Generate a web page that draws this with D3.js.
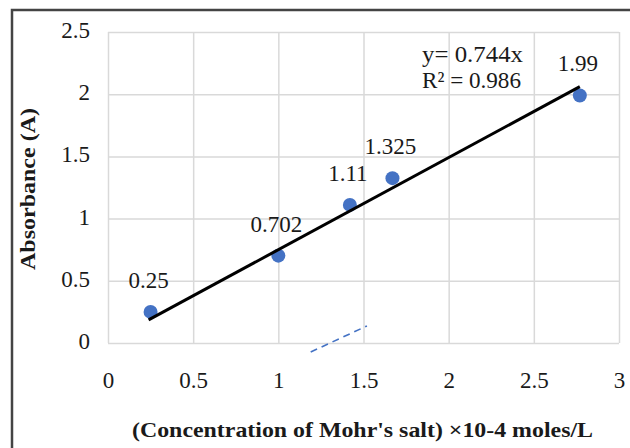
<!DOCTYPE html>
<html>
<head>
<meta charset="utf-8">
<script src="https://cdn.jsdelivr.net/npm/d3@7"></script>
<style>
  html, body { margin: 0; padding: 0; background: #fff; }
  svg { display: block; }
  text { font-family: "Liberation Serif", "Times New Roman", serif; fill: #1a1a1a; }
</style>
</head>
<body>
<script>
// ---- data ----
const concentration = [0.25, 1.0, 1.42, 1.67, 2.77];
const absorbance = [0.25, 0.702, 1.11, 1.325, 1.99];
const pointLabels = ["0.25", "0.702", "1.11", "1.325", "1.99"];
const slope = 0.744;
const equationLines = ["y= 0.744x", "R\u00B2 = 0.986"];
const dashX = [1.19, 1.52];
const dashY = [-0.072, 0.137];
const xTicks = [0, 0.5, 1, 1.5, 2, 2.5, 3];
const yTicks = [0, 0.5, 1, 1.5, 2, 2.5];
const xTitle = "(Concentration of Mohr's salt) \u00D710-4 moles/L";
const yTitle = "Absorbance (A)";

const W = 630, H = 448;
const svg = d3.select("body").append("svg").attr("width", W).attr("height", H);

// outer frame (extends past the right/bottom edges)
svg.append("path")
  .attr("d", "M12,470 L12,10 L640,10")
  .attr("fill", "none").attr("stroke", "#444").attr("stroke-width", 2.5);

const x = d3.scaleLinear().domain([0, 3]).range([108, 619]);
const y = d3.scaleLinear().domain([0, 2.5]).range([343, 32]);

// grid
const gx = svg.append("g").attr("transform", `translate(0,${y(0)})`)
  .call(d3.axisBottom(x).tickValues(xTicks).tickSize(-(y(0) - y(2.5))).tickFormat(""));
const gy = svg.append("g").attr("transform", `translate(${x(0)},0)`)
  .call(d3.axisLeft(y).tickValues(yTicks).tickSize(-(x(3) - x(0))).tickFormat(""));
[gx, gy].forEach(g => {
  g.select(".domain").remove();
  g.selectAll(".tick line").attr("stroke", "#d9d9d9").attr("stroke-width", 1.5);
});

// tick labels
const lx = svg.append("g").attr("transform", `translate(0,${y(0)})`)
  .call(d3.axisBottom(x).tickValues(xTicks).tickSize(0).tickFormat(d3.format("")));
lx.select(".domain").remove();
lx.selectAll("text").attr("y", 45).attr("dy", "0")
  .style("font-family", "'Liberation Serif', serif").style("font-size", "23px").attr("fill", "#1a1a1a");

const ly = svg.append("g").attr("transform", `translate(${x(0)},0)`)
  .call(d3.axisLeft(y).tickValues(yTicks).tickSize(0).tickFormat(d3.format("")));
ly.select(".domain").remove();
ly.selectAll("text").attr("x", -18).attr("dy", "0.24em")
  .style("font-family", "'Liberation Serif', serif").style("font-size", "23px").attr("fill", "#1a1a1a");

// dashed segment
svg.append("line")
  .attr("x1", x(dashX[0])).attr("y1", y(dashY[0]))
  .attr("x2", x(dashX[1])).attr("y2", y(dashY[1]))
  .attr("stroke", "#4472C4").attr("stroke-width", 1.6).attr("stroke-dasharray", "7,5");

// points
svg.append("g").selectAll("circle")
  .data(concentration)
  .join("circle")
  .attr("cx", (d) => x(d))
  .attr("cy", (d, i) => y(absorbance[i]))
  .attr("r", 7)
  .attr("fill", "#4472C4");

// trendline
const xMin = d3.min(concentration), xMax = d3.max(concentration);
svg.append("line")
  .attr("x1", x(xMin) - 2).attr("y1", y(slope * xMin))
  .attr("x2", x(xMax)).attr("y2", y(slope * xMax))
  .attr("stroke", "#000").attr("stroke-width", 3);

// data labels
svg.append("g").selectAll("text")
  .data(pointLabels)
  .join("text")
  .attr("x", (d, i) => x(concentration[i]) - 2)
  .attr("y", (d, i) => y(absorbance[i]) - 24)
  .attr("text-anchor", "middle")
  .style("font-size", "23px")
  .text(d => d);

// equation
svg.append("g").selectAll("text")
  .data(equationLines)
  .join("text")
  .attr("x", 422)
  .attr("y", (d, i) => 62 + i * 26)
  .attr("textLength", (d, i) => i === 0 ? 101 : 99)
  .attr("lengthAdjust", "spacingAndGlyphs")
  .style("font-size", "23px")
  .text(d => d);

// axis titles
svg.append("text")
  .attr("x", 132).attr("y", 437)
  .attr("textLength", 461).attr("lengthAdjust", "spacingAndGlyphs")
  .style("font-size", "21px").style("font-weight", "bold")
  .text(xTitle);

svg.append("text")
  .attr("transform", "translate(35,270) rotate(-90)")
  .attr("textLength", 162).attr("lengthAdjust", "spacingAndGlyphs")
  .style("font-size", "21px").style("font-weight", "bold")
  .text(yTitle);
</script>
</body>
</html>
